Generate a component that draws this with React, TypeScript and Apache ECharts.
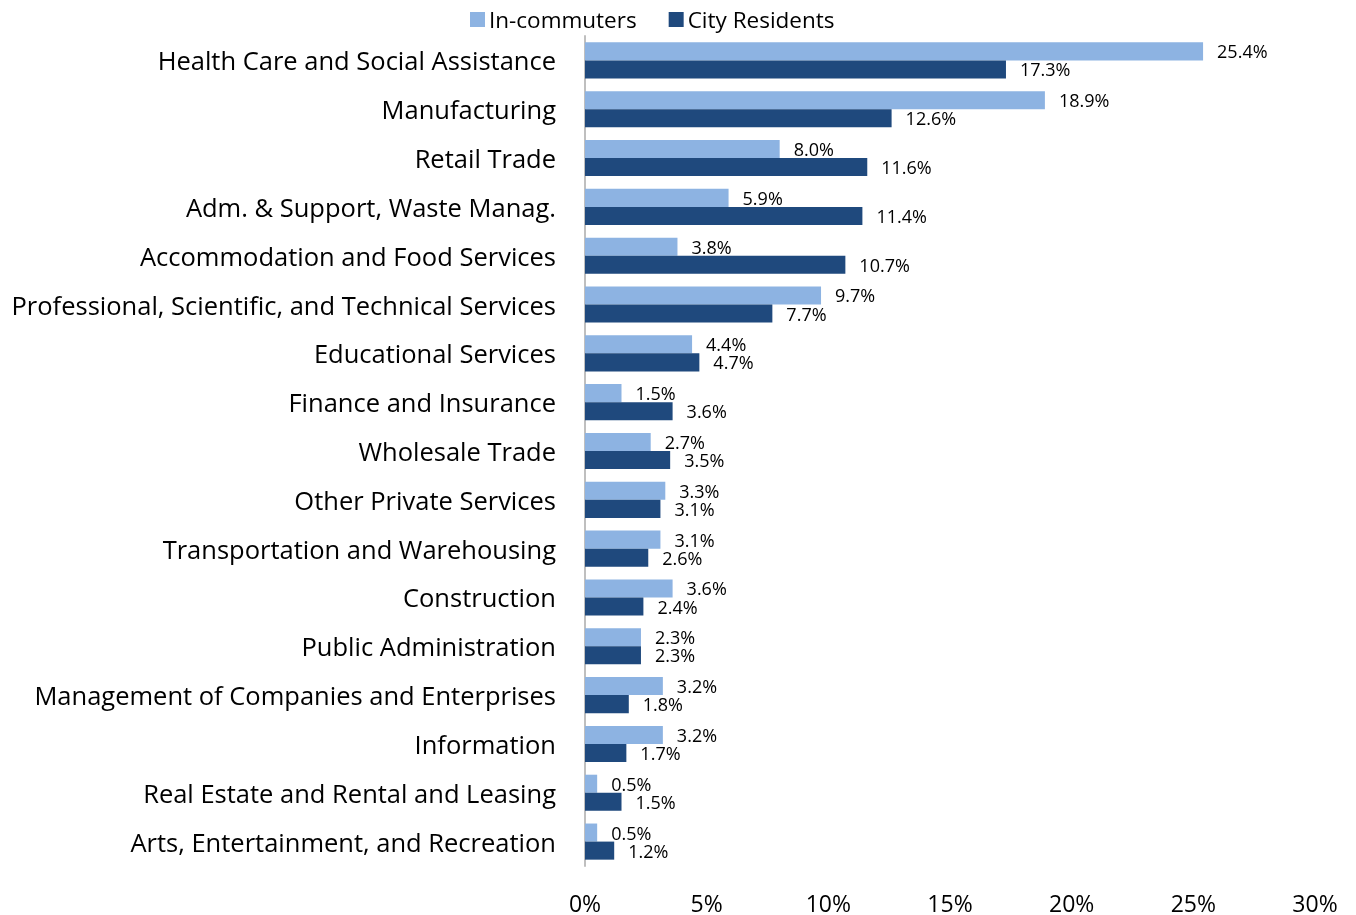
import React, { useEffect, useRef } from "react";
import * as echarts from "echarts";

const categories = [
  "Health Care and Social Assistance",
  "Manufacturing",
  "Retail Trade",
  "Adm. & Support, Waste Manag.",
  "Accommodation and Food Services",
  "Professional, Scientific, and Technical Services",
  "Educational Services",
  "Finance and Insurance",
  "Wholesale Trade",
  "Other Private Services",
  "Transportation and Warehousing",
  "Construction",
  "Public Administration",
  "Management of Companies and Enterprises",
  "Information",
  "Real Estate and Rental and Leasing",
  "Arts, Entertainment, and Recreation",
];

const inCommuters = [25.4, 18.9, 8.0, 5.9, 3.8, 9.7, 4.4, 1.5, 2.7, 3.3, 3.1, 3.6, 2.3, 3.2, 3.2, 0.5, 0.5];
const cityResidents = [17.3, 12.6, 11.6, 11.4, 10.7, 7.7, 4.7, 3.6, 3.5, 3.1, 2.6, 2.4, 2.3, 1.8, 1.7, 1.5, 1.2];

const FONT = "'Open Sans', sans-serif";

export default function App() {
  const ref = useRef<HTMLDivElement>(null);
  useEffect(() => {
    if (!ref.current) return;
    const chart = echarts.init(ref.current, null, { renderer: "svg" });
    const labelCfg = {
      show: true,
      position: "right" as const,
      distance: 14,
      color: "#000",
      fontSize: 18,
      fontFamily: FONT,
      formatter: (p: any) => p.value.toFixed(1) + "%",
    };
    chart.setOption({
      animation: false,
      textStyle: { fontFamily: FONT },
      legend: {
        top: 3,
        left: 465,
        icon: "rect",
        itemWidth: 15,
        itemHeight: 15,
        itemGap: 32,
        textStyle: { fontSize: 22.5, color: "#000", fontFamily: FONT, padding: [0, 0, 0, -1] },
        data: ["In-commuters", "City Residents"],
      },
      grid: { left: 585, right: 41, top: 36, bottom: 49, containLabel: false },
      xAxis: {
        type: "value",
        min: 0,
        max: 30,
        interval: 5,
        axisLine: { show: false },
        axisTick: { show: false },
        splitLine: { show: false },
        axisLabel: {
          formatter: "{value}%",
          fontSize: 23,
          lineHeight: 22,
          color: "#000",
          margin: 26,
          fontFamily: FONT,
        },
      },
      yAxis: {
        type: "category",
        data: categories,
        inverse: true,
        axisLine: { show: true, lineStyle: { color: "#BFBFBF", width: 2 } },
        axisTick: { show: false },
        axisLabel: { fontSize: 25.5, color: "#000", margin: 29, fontFamily: FONT },
      },
      series: [
        {
          name: "In-commuters",
          type: "bar",
          data: inCommuters,
          barGap: "0%",
          barCategoryGap: "26%",
          itemStyle: { color: "#8DB3E2" },
          label: labelCfg,
        },
        {
          name: "City Residents",
          type: "bar",
          data: cityResidents,
          itemStyle: { color: "#1F497D" },
          label: labelCfg,
        },
      ],
    });
    return () => chart.dispose();
  }, []);
  return (
    <div
      ref={ref}
      style={{ position: "fixed", left: 0, top: 0, width: 1356, height: 915 }}
    />
  );
}
